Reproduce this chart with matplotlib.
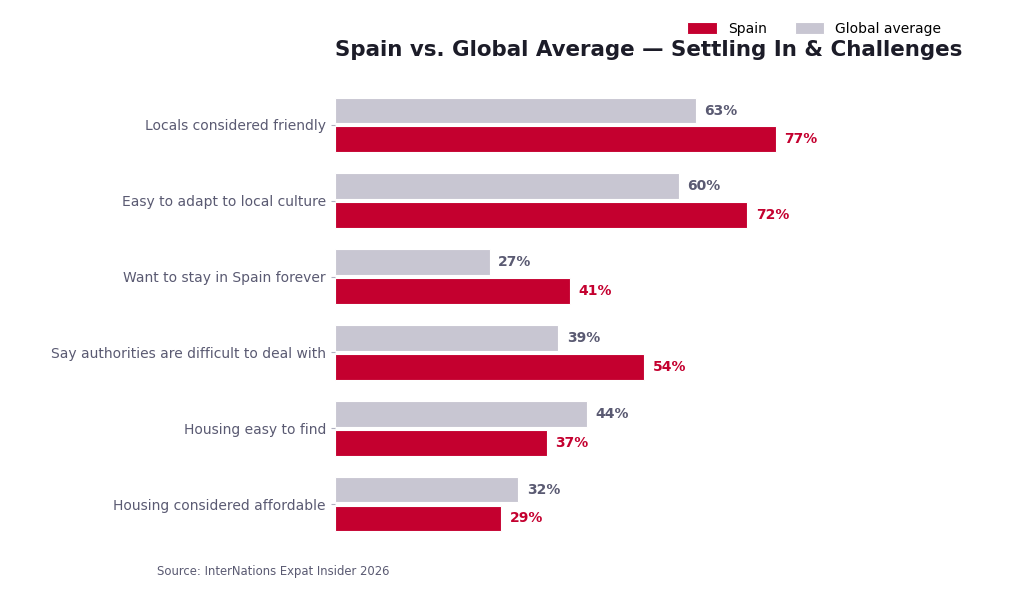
import matplotlib
matplotlib.use("Agg")
import matplotlib.pyplot as plt
import numpy as np

plt.rcParams["font.family"] = ["DejaVu Sans"]

# ─── Datos ────────────────────────────────────────────────────────────────────
categories = [
    "Locals considered friendly",
    "Easy to adapt to local culture",
    "Want to stay in Spain forever",
    "Say authorities are difficult to deal with",
    "Housing easy to find",
    "Housing considered affordable",
]
spain = [77, 72, 41, 54, 37, 29]
global_avg = [63, 60, 27, 39, 44, 32]

RED = "#C4002F"
GREY = "#C8C6D2"
LABEL_GREY = "#5A5A72"
TEXT = "#1C1C28"

# ─── Figura ───────────────────────────────────────────────────────────────────
fig = plt.figure(figsize=(10.24, 6.01), dpi=100)
ax = fig.add_axes([335 / 1024, 1 - 549.5 / 601, 572.7 / 1024, 470 / 601])

y = np.arange(len(categories))
off = 0.19
h = 0.34

ax.barh(y - off, global_avg, height=h, color=GREY, edgecolor="white", lw=0.8,
        label="Global average")
ax.barh(y + off, spain, height=h, color=RED, edgecolor="white", lw=0.8,
        label="Spain")

for yi, g, s in zip(y, global_avg, spain):
    ax.text(g + 1.5, yi - off, f"{g}%", va="center", ha="left",
            fontsize=10, fontweight="bold", color=LABEL_GREY)
    ax.text(s + 1.5, yi + off, f"{s}%", va="center", ha="left",
            fontsize=10, fontweight="bold", color=RED)

ax.set_xlim(0, 100)
ax.set_ylim(len(categories) - 0.4, -0.6)
ax.set_yticks(y)
ax.set_yticklabels(categories, fontsize=10, color=LABEL_GREY)
ax.tick_params(axis="y", length=3, color="#B0B0C0")
ax.set_xticks([])
for sp in ax.spines.values():
    sp.set_visible(False)

# Leyenda (Spain primero)
handles, labels = ax.get_legend_handles_labels()
fig.legend(handles[::-1], labels[::-1], loc="upper right",
           bbox_to_anchor=(954 / 1024, 1 - 9 / 601), ncol=2, frameon=False,
           fontsize=10, handlelength=2.15, handleheight=0.95, columnspacing=2.0)

fig.text(335 / 1024, 1 - 50 / 601, "Spain vs. Global Average — Settling In & Challenges",
         fontsize=15.4, fontweight="bold", color=TEXT, ha="left", va="center")
fig.text(157 / 1024, 1 - 571 / 601, "Source: InterNations Expat Insider 2026",
         fontsize=8.4, color=LABEL_GREY, ha="left", va="center")

fig.savefig("out.png", dpi=100)
